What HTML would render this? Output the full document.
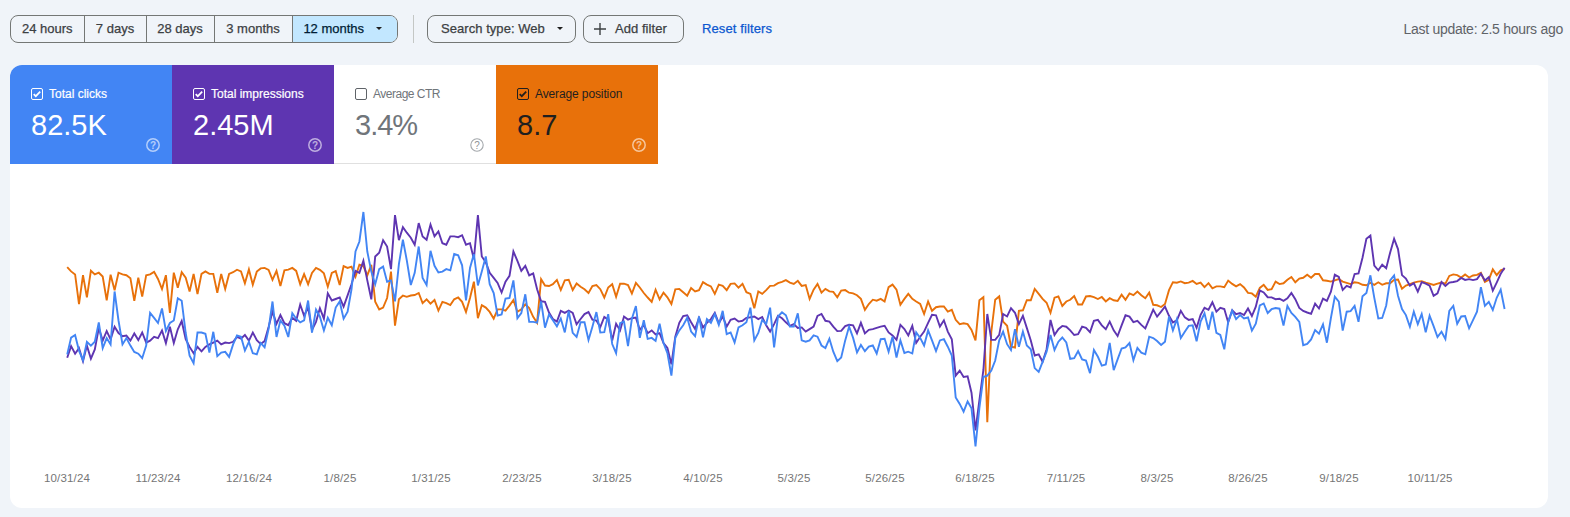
<!DOCTYPE html>
<html lang="en">
<head>
<meta charset="utf-8">
<title>Performance</title>
<style>
*{box-sizing:border-box;margin:0;padding:0}
html,body{width:1570px;height:517px;overflow:hidden}
body{background:#f0f4f9;font-family:"Liberation Sans",Arial,sans-serif;position:relative;color:#1f1f1f}
.seg{position:absolute;left:10px;top:15px;height:28px;width:388px;border:1px solid #747775;border-radius:8px;display:flex;overflow:hidden;background:#f0f4f9}
.seg div{height:100%;display:flex;align-items:center;justify-content:center;padding-bottom:2px;-webkit-text-stroke:0.25px currentColor;font-size:13px;color:#3c4043;border-right:1px solid #747775;white-space:nowrap}
.seg div:last-child{border-right:none;background:#c2e7ff;color:#001d35}
.caret{display:inline-block;width:0;height:0;border-left:3.5px solid transparent;border-right:3.5px solid transparent;border-top:3.5px solid #1f1f1f;position:relative;top:0.3px}
.vsep{position:absolute;left:413px;top:15px;width:1px;height:28px;background:#c4c7c5}
.chip{position:absolute;top:15px;height:28px;border:1px solid #747775;border-radius:8px;font-size:13px;color:#3c4043;display:flex;align-items:center;white-space:nowrap;padding-bottom:2px;-webkit-text-stroke:0.25px currentColor;letter-spacing:0.05px}
.reset{position:absolute;left:702px;top:15px;height:28px;line-height:28px;font-size:13px;color:#0b57d0;white-space:nowrap;-webkit-text-stroke:0.25px currentColor;letter-spacing:0.12px}
.upd{position:absolute;right:7px;top:15px;height:28px;line-height:28px;font-size:14px;color:#5f6368;white-space:nowrap;letter-spacing:-0.27px}
.card{position:absolute;left:10px;top:65px;width:1538px;height:443px;background:#fff;border-radius:12px;overflow:hidden}
.tab{position:absolute;top:0;width:162px;height:99px;color:#fff}
.tab .cb{position:absolute;left:21px;top:23px;width:12px;height:12px}
.tab .lbl{position:absolute;left:39px;top:21px;font-size:12px;line-height:16px;white-space:nowrap;-webkit-text-stroke:0.2px currentColor}
.tab .val{position:absolute;left:21px;top:42px;font-size:29px;line-height:36px;white-space:nowrap;letter-spacing:0}
.tab .help{position:absolute;left:136px;top:73px;width:14px;height:14px}
.t1{left:0;background:#4285f4}
.t2{left:162px;background:#5e35b1}
.t3{left:324px;background:#fff;color:#70757a;border-bottom:1px solid #e0e0e0}
.t3 .lbl{letter-spacing:-0.5px;-webkit-text-stroke:0}
.t3 .val{letter-spacing:-1px}
.t4 .lbl{letter-spacing:-0.12px;-webkit-text-stroke:0}
.t4{left:486px;background:#e8710a;color:#1f1f1f}
.xl{position:absolute;top:406px;font-size:11.5px;letter-spacing:0.15px;line-height:14px;color:#757575;transform:translateX(-50%);white-space:nowrap}
svg.chart{position:absolute;left:0;top:0}
</style>
</head>
<body>
<div class="seg">
  <div style="width:73.5px">24 hours</div>
  <div style="width:62px">7 days</div>
  <div style="width:68px">28 days</div>
  <div style="width:78px">3 months</div>
  <div style="flex:1">12 months<span class="caret" style="margin-left:12px;margin-right:4px"></span></div>
</div>
<div class="vsep"></div>
<div class="chip" style="left:427px;width:149px;padding-left:13px">Search type: Web<span class="caret" style="margin-left:12px"></span></div>
<div class="chip" style="left:583px;width:101px;padding-left:10px"><svg width="12" height="12" viewBox="0 0 12 12" style="margin-right:9px;position:relative;top:0.5px"><path d="M6 0v12M0 6h12" stroke="#3c4043" stroke-width="1.4" fill="none"/></svg>Add filter</div>
<div class="reset">Reset filters</div>
<div class="upd">Last update: 2.5 hours ago</div>

<div class="card">
  <div class="tab t1">
    <svg class="cb" viewBox="0 0 12 12"><rect x="0.5" y="0.5" width="11" height="11" rx="1.5" fill="none" stroke="#fff"/><path d="M2.7 6.1l2.1 2.1 4.4-4.6" stroke="#fff" stroke-width="1.7" fill="none"/></svg>
    <div class="lbl">Total clicks</div><div class="val">82.5K</div>
    <svg class="help" viewBox="0 0 14 14"><circle cx="7" cy="7" r="6.2" fill="none" stroke="#fff" stroke-opacity=".6" stroke-width="1.5"/><text x="7" y="10.6" font-size="10" font-family="Liberation Sans" font-weight="bold" fill="#fff" fill-opacity=".6" text-anchor="middle">?</text></svg>
  </div>
  <div class="tab t2">
    <svg class="cb" viewBox="0 0 12 12"><rect x="0.5" y="0.5" width="11" height="11" rx="1.5" fill="none" stroke="#fff"/><path d="M2.7 6.1l2.1 2.1 4.4-4.6" stroke="#fff" stroke-width="1.7" fill="none"/></svg>
    <div class="lbl">Total impressions</div><div class="val">2.45M</div>
    <svg class="help" viewBox="0 0 14 14"><circle cx="7" cy="7" r="6.2" fill="none" stroke="#fff" stroke-opacity=".6" stroke-width="1.5"/><text x="7" y="10.6" font-size="10" font-family="Liberation Sans" font-weight="bold" fill="#fff" fill-opacity=".6" text-anchor="middle">?</text></svg>
  </div>
  <div class="tab t3">
    <svg class="cb" viewBox="0 0 12 12"><rect x="0.5" y="0.5" width="11" height="11" rx="1.5" fill="none" stroke="#5f6368"/></svg>
    <div class="lbl">Average CTR</div><div class="val">3.4%</div>
    <svg class="help" viewBox="0 0 14 14"><circle cx="7" cy="7" r="6.2" fill="none" stroke="#a4a8ac" stroke-width="1.1"/><text x="7" y="10.5" font-size="10" font-family="Liberation Sans" fill="#909498" text-anchor="middle">?</text></svg>
  </div>
  <div class="tab t4">
    <svg class="cb" viewBox="0 0 12 12"><rect x="0.5" y="0.5" width="11" height="11" rx="1.5" fill="none" stroke="#1f1f1f"/><path d="M2.7 6.1l2.1 2.1 4.4-4.6" stroke="#1f1f1f" stroke-width="1.7" fill="none"/></svg>
    <div class="lbl">Average position</div><div class="val">8.7</div>
    <svg class="help" viewBox="0 0 14 14"><circle cx="7" cy="7" r="6.2" fill="none" stroke="#fff" stroke-opacity=".6" stroke-width="1.5"/><text x="7" y="10.6" font-size="10" font-family="Liberation Sans" font-weight="bold" fill="#fff" fill-opacity=".6" text-anchor="middle">?</text></svg>
  </div>
  <!--XLABELS--><div class="xl" style="left:57px">10/31/24</div><div class="xl" style="left:148px">11/23/24</div><div class="xl" style="left:239px">12/16/24</div><div class="xl" style="left:330px">1/8/25</div><div class="xl" style="left:421px">1/31/25</div><div class="xl" style="left:512px">2/23/25</div><div class="xl" style="left:602px">3/18/25</div><div class="xl" style="left:693px">4/10/25</div><div class="xl" style="left:784px">5/3/25</div><div class="xl" style="left:875px">5/26/25</div><div class="xl" style="left:965px">6/18/25</div><div class="xl" style="left:1056px">7/11/25</div><div class="xl" style="left:1147px">8/3/25</div><div class="xl" style="left:1238px">8/26/25</div><div class="xl" style="left:1329px">9/18/25</div><div class="xl" style="left:1420px">10/11/25</div><!--/XLABELS-->
  <!--CHART--><svg class="chart" width="1538" height="443" viewBox="0 0 1538 443" fill="none" stroke-width="1.9" stroke-linejoin="miter" stroke-miterlimit="4" stroke-linecap="butt">
<polyline stroke="#e8710a" points="57.2,202.2 61.1,206.4 65.1,209.4 69.0,239.1 73.0,210.2 76.9,232.3 80.9,205.7 84.8,209.4 88.8,207.7 92.7,211.5 96.7,235.3 100.6,209.7 104.6,225.3 108.5,207.7 112.5,209.4 116.4,210.2 120.4,213.2 124.3,235.8 128.3,212.7 132.2,231.6 136.2,210.2 140.1,209.4 144.1,206.9 148.0,214.0 152.0,224.0 155.9,210.2 159.9,247.9 163.8,207.7 167.8,222.8 171.7,207.2 175.7,212.7 179.6,226.5 183.6,208.9 187.5,229.1 191.5,208.9 195.4,206.4 199.4,208.9 203.3,208.9 207.3,227.8 211.2,208.9 215.2,224.0 219.1,208.9 223.1,207.2 227.0,204.7 231.0,206.4 234.9,218.2 238.9,204.4 242.8,219.8 246.8,206.6 250.7,203.4 254.6,202.9 258.6,204.9 262.5,214.9 266.5,205.9 270.4,221.0 274.4,205.4 278.3,204.6 282.3,202.9 286.2,205.9 290.2,219.2 294.1,209.1 298.1,219.2 302.0,207.9 306.0,202.9 309.9,204.9 313.9,208.4 317.8,221.7 321.8,207.9 325.7,206.1 329.7,220.0 333.6,201.1 337.6,202.9 341.5,201.6 345.5,211.7 349.4,199.8 353.4,201.1 357.3,210.4 361.3,199.8 365.2,236.8 369.2,244.4 373.1,242.6 377.1,233.0 381.0,206.6 385.0,260.7 388.9,234.3 392.9,230.5 396.8,231.8 400.8,230.5 404.7,230.0 408.7,228.0 412.6,238.1 416.6,234.3 420.5,238.6 424.5,235.0 428.4,245.6 432.4,236.8 436.3,238.1 440.3,240.1 444.2,234.3 448.2,232.5 452.1,236.8 456.0,246.9 460.0,233.0 463.9,216.7 467.9,253.2 471.8,240.1 475.8,242.6 479.7,246.9 483.7,253.7 487.6,244.4 491.6,244.4 495.5,245.6 499.5,240.6 503.4,235.0 507.4,246.9 511.3,244.4 515.3,239.3 519.2,243.1 523.2,251.9 527.1,257.7 531.1,214.2 535.0,220.5 539.0,221.0 542.9,219.2 546.9,214.9 550.8,225.0 554.8,215.4 558.7,214.7 562.7,225.0 566.6,218.5 570.6,221.7 574.5,224.2 578.5,228.0 582.4,221.0 586.4,220.0 590.3,224.2 594.3,232.5 598.2,222.5 602.2,219.2 606.1,231.8 610.1,218.7 614.0,218.7 618.0,220.0 621.9,228.5 625.9,217.9 629.8,222.5 633.8,228.0 637.7,232.5 641.7,236.8 645.6,224.7 649.6,234.3 653.5,227.6 657.4,232.3 661.4,239.0 665.3,224.4 669.3,223.9 673.2,227.2 677.2,230.7 681.1,223.1 685.1,226.4 689.0,225.1 693.0,217.1 696.9,219.6 700.9,221.4 704.8,228.9 708.8,219.6 712.7,220.9 716.7,225.1 720.6,218.9 724.6,218.4 728.5,222.6 732.5,218.9 736.4,227.2 740.4,228.9 744.3,243.2 748.3,226.4 752.2,228.9 756.2,225.1 760.1,220.9 764.1,220.6 768.0,218.1 772.0,216.8 775.9,215.1 779.9,217.6 783.8,218.9 787.8,215.8 791.7,220.9 795.7,220.1 799.6,233.9 803.6,224.6 807.5,218.9 811.5,227.7 815.4,223.9 819.4,226.4 823.3,226.9 827.3,232.2 831.2,225.6 835.2,225.1 839.1,227.7 843.1,228.4 847.0,230.2 850.9,233.9 854.9,244.8 858.8,239.0 862.8,234.7 866.7,235.7 870.7,233.9 874.6,236.5 878.6,222.1 882.5,219.6 886.5,224.6 890.4,239.7 894.4,233.9 898.3,228.9 902.3,233.9 906.2,236.5 910.2,239.0 914.1,249.0 918.1,236.5 922.0,245.8 926.0,242.2 929.9,241.5 933.9,241.5 937.8,246.5 941.8,244.8 945.7,254.8 949.7,259.1 953.6,258.3 957.6,259.1 961.5,264.9 965.5,275.4 969.4,235.2 973.4,232.2 977.3,357.3 981.3,267.0 985.2,234.7 989.2,231.4 993.1,256.6 997.1,260.8 1001.0,281.7 1005.0,282.5 1008.9,245.8 1012.9,245.3 1016.8,235.2 1020.8,235.2 1024.7,223.9 1028.7,228.9 1032.6,233.9 1036.6,237.7 1040.5,247.8 1044.5,232.7 1048.4,231.5 1052.3,241.0 1056.3,236.5 1060.2,234.8 1064.2,231.0 1068.1,239.5 1072.1,239.5 1076.0,231.5 1080.0,231.0 1083.9,232.2 1087.9,234.0 1091.8,232.0 1095.8,236.5 1099.7,233.2 1103.7,235.3 1107.6,236.0 1111.6,229.7 1115.5,234.8 1119.5,228.5 1123.4,230.2 1127.4,226.5 1131.3,230.2 1135.3,233.2 1139.2,227.7 1143.2,239.8 1147.1,240.3 1151.1,242.0 1155.0,239.0 1159.0,225.2 1162.9,217.2 1166.9,217.7 1170.8,216.4 1174.8,218.2 1178.7,217.7 1182.7,215.9 1186.6,218.9 1190.6,217.7 1194.5,222.2 1198.5,218.2 1202.4,223.4 1206.4,221.4 1210.3,221.4 1214.3,222.2 1218.2,215.6 1222.2,218.9 1226.1,221.4 1230.1,219.1 1234.0,222.4 1238.0,227.9 1241.9,228.4 1245.8,231.7 1249.8,222.9 1253.7,219.8 1257.7,224.9 1261.6,224.1 1265.6,216.6 1269.5,219.1 1273.5,218.3 1277.4,214.8 1281.4,212.0 1285.3,217.3 1289.3,213.6 1293.2,212.8 1297.2,209.8 1301.1,212.8 1305.1,209.0 1309.0,209.0 1313.0,215.3 1316.9,215.8 1320.9,216.6 1324.8,215.3 1328.8,214.1 1332.7,216.6 1336.7,217.8 1340.6,219.1 1344.6,217.3 1348.5,217.8 1352.5,219.8 1356.4,220.3 1360.4,217.8 1364.3,219.8 1368.3,217.3 1372.2,219.8 1376.2,218.3 1380.1,218.3 1384.1,214.9 1388.0,214.5 1392.0,223.7 1395.9,220.6 1399.9,219.2 1403.8,217.6 1407.8,216.6 1411.7,216.1 1415.7,217.6 1419.6,218.6 1423.6,220.0 1427.5,218.6 1431.5,217.6 1435.4,218.6 1439.3,210.9 1443.3,209.4 1447.2,210.1 1451.2,212.5 1455.1,209.4 1459.1,212.5 1463.0,210.5 1467.0,209.9 1470.9,207.8 1474.9,217.0 1478.8,214.9 1482.8,204.4 1486.7,210.1 1490.7,205.4 1494.6,204.0"/>
<polyline stroke="#5e35b1" points="57.2,292.7 61.1,281.1 65.1,288.7 69.0,283.1 73.0,296.2 76.9,280.6 80.9,293.7 84.8,284.4 88.8,263.0 92.7,275.6 96.7,266.0 100.6,274.3 104.6,261.7 108.5,268.0 112.5,271.3 116.4,270.5 120.4,275.6 124.3,268.5 128.3,275.1 132.2,267.5 136.2,277.6 140.1,275.6 144.1,271.8 148.0,273.1 152.0,265.5 155.9,278.1 159.9,261.7 163.8,278.1 167.8,264.3 171.7,256.0 175.7,274.3 179.6,281.9 183.6,288.2 187.5,281.9 191.5,286.4 195.4,281.9 199.4,279.4 203.3,277.6 207.3,275.6 211.2,279.4 215.2,277.6 219.1,278.1 223.1,276.8 227.0,271.8 231.0,273.6 234.9,270.0 238.9,275.6 242.8,267.5 246.8,275.1 250.7,279.1 254.6,276.1 258.6,261.9 262.5,246.6 266.5,258.8 270.4,250.1 274.4,258.2 278.3,260.2 282.3,252.7 286.2,255.8 290.2,239.5 294.1,250.7 298.1,242.6 302.0,264.9 306.0,256.8 309.9,243.2 313.9,253.7 317.8,228.4 321.8,235.5 325.7,234.0 329.7,232.4 333.6,241.6 337.6,230.4 341.5,219.2 345.5,205.9 349.4,207.9 353.4,195.8 357.3,215.4 361.3,234.3 365.2,191.5 369.2,187.8 373.1,175.2 377.1,181.5 381.0,204.1 385.0,150.1 388.9,175.2 392.9,162.1 396.8,167.7 400.8,172.7 404.7,179.7 408.7,158.1 412.6,171.4 416.6,174.7 420.5,159.6 424.5,171.4 428.4,166.4 432.4,178.2 436.3,179.7 440.3,171.4 444.2,171.4 448.2,172.2 452.1,170.2 456.0,179.7 460.0,178.2 463.9,194.1 467.9,150.1 471.8,191.5 475.8,197.3 479.7,207.9 483.7,212.9 487.6,217.9 491.6,227.5 495.5,216.7 499.5,210.9 503.4,186.5 507.4,195.8 511.3,205.9 515.3,200.8 519.2,210.4 523.2,208.4 527.1,224.2 531.1,236.3 535.0,236.9 539.0,247.5 542.9,254.0 546.9,256.6 550.8,245.9 554.8,247.9 558.7,245.5 562.7,247.9 566.6,259.3 570.6,254.0 574.5,249.1 578.5,247.1 582.4,254.6 586.4,255.6 590.3,262.1 594.3,252.0 598.2,254.6 602.2,275.5 606.1,258.7 610.1,265.4 614.0,251.6 618.0,254.6 621.9,253.2 625.9,252.6 629.8,264.8 633.8,260.1 637.7,268.2 641.7,265.4 645.6,269.4 649.6,268.2 653.5,278.0 657.4,283.0 661.4,299.3 665.3,271.7 669.3,257.8 673.2,251.0 677.2,250.3 681.1,257.3 685.1,264.1 689.0,252.8 693.0,262.4 696.9,257.8 700.9,254.1 704.8,247.8 708.8,258.3 712.7,251.5 716.7,261.6 720.6,254.8 724.6,253.6 728.5,256.6 732.5,255.8 736.4,252.8 740.4,252.3 744.3,251.5 748.3,254.1 752.2,252.0 756.2,260.3 760.1,266.6 764.1,259.1 768.0,250.8 772.0,253.3 775.9,257.3 779.9,260.8 783.8,259.1 787.8,262.9 791.7,262.4 795.7,266.6 799.6,264.1 803.6,261.6 807.5,251.0 811.5,249.0 815.4,255.8 819.4,256.6 823.3,261.6 827.3,266.1 831.2,265.9 835.2,261.1 839.1,259.8 843.1,260.3 847.0,268.4 850.9,257.8 854.9,268.4 858.8,264.9 862.8,264.1 866.7,262.9 870.7,261.6 874.6,260.8 878.6,267.4 882.5,270.4 886.5,274.9 890.4,259.8 894.4,264.1 898.3,270.4 902.3,260.8 906.2,277.9 910.2,271.7 914.1,266.6 918.1,257.8 922.0,249.8 926.0,250.3 929.9,261.6 933.9,255.3 937.8,266.6 941.8,274.2 945.7,310.6 949.7,305.6 953.6,311.9 957.6,311.4 961.5,327.7 965.5,365.3 969.4,335.0 973.4,305.0 977.3,249.0 981.3,274.9 985.2,274.9 989.2,269.9 993.1,249.0 997.1,251.5 1001.0,243.2 1005.0,247.8 1008.9,259.1 1012.9,250.8 1016.8,262.9 1020.8,275.4 1024.7,290.5 1028.7,289.3 1032.6,296.8 1036.6,284.2 1040.5,254.9 1044.5,270.0 1048.4,264.2 1052.3,260.9 1056.3,261.7 1060.2,265.4 1064.2,270.0 1068.1,269.2 1072.1,261.7 1076.0,262.9 1080.0,267.2 1083.9,255.9 1087.9,254.9 1091.8,260.4 1095.8,264.2 1099.7,256.6 1103.7,265.4 1107.6,271.0 1111.6,260.4 1115.5,250.3 1119.5,251.6 1123.4,257.1 1127.4,255.9 1131.3,259.9 1135.3,263.4 1139.2,254.1 1143.2,244.6 1147.1,251.6 1151.1,246.6 1155.0,241.5 1159.0,250.8 1162.9,257.4 1166.9,255.4 1170.8,245.8 1174.8,252.4 1178.7,254.9 1182.7,254.1 1186.6,262.9 1190.6,249.8 1194.5,242.8 1198.5,244.8 1202.4,237.3 1206.4,246.6 1210.3,242.8 1214.3,244.1 1218.2,257.4 1222.2,245.3 1226.1,249.1 1230.1,248.0 1234.0,250.0 1238.0,243.5 1241.9,251.0 1245.8,241.7 1249.8,225.4 1253.7,227.4 1257.7,232.2 1261.6,232.4 1265.6,234.2 1269.5,233.7 1273.5,235.9 1277.4,233.4 1281.4,227.9 1285.3,234.2 1289.3,243.0 1293.2,246.0 1297.2,247.5 1301.1,248.8 1305.1,238.7 1309.0,243.5 1313.0,233.7 1316.9,235.9 1320.9,226.6 1324.8,209.8 1328.8,212.0 1332.7,224.9 1336.7,220.8 1340.6,222.4 1344.6,209.0 1348.5,208.5 1352.5,192.7 1356.4,173.8 1360.4,170.6 1364.3,200.7 1368.3,205.3 1372.2,199.7 1376.2,203.2 1380.1,187.7 1384.1,173.8 1388.0,184.1 1392.0,210.1 1395.9,213.5 1399.9,220.6 1403.8,218.2 1407.8,226.7 1411.7,217.2 1415.7,218.6 1419.6,220.6 1423.6,230.8 1427.5,228.3 1431.5,217.0 1435.4,221.0 1439.3,217.6 1443.3,217.0 1447.2,216.1 1451.2,212.9 1455.1,214.9 1459.1,214.1 1463.0,215.1 1467.0,214.1 1470.9,208.8 1474.9,215.5 1478.8,212.1 1482.8,225.7 1486.7,217.6 1490.7,208.8 1494.6,202.7"/>
<polyline stroke="#4285f4" points="57.2,289.4 61.1,272.6 65.1,270.0 69.0,285.6 73.0,295.2 76.9,276.8 80.9,280.6 84.8,276.8 88.8,257.5 92.7,283.1 96.7,273.1 100.6,279.4 104.6,226.5 108.5,255.5 112.5,279.4 116.4,273.1 120.4,280.6 124.3,286.9 128.3,288.7 132.2,293.2 136.2,280.6 140.1,247.9 144.1,252.9 148.0,258.0 152.0,243.4 155.9,266.0 159.9,258.0 163.8,255.5 167.8,233.3 171.7,235.8 175.7,268.0 179.6,290.7 183.6,298.2 187.5,267.5 191.5,267.5 195.4,268.8 199.4,287.6 203.3,266.8 207.3,291.2 211.2,287.6 215.2,286.9 219.1,291.9 223.1,279.4 227.0,270.5 231.0,271.8 234.9,285.6 238.9,276.8 242.8,288.2 246.8,289.3 250.7,278.1 254.6,282.2 258.6,263.9 262.5,236.5 266.5,272.0 270.4,255.4 274.4,260.8 278.3,272.0 282.3,248.1 286.2,253.7 290.2,257.4 294.1,255.4 298.1,235.5 302.0,267.6 306.0,244.6 309.9,251.7 313.9,265.5 317.8,252.7 321.8,260.2 325.7,242.6 329.7,236.5 333.6,253.7 337.6,246.6 341.5,224.3 345.5,186.5 349.4,176.5 353.4,147.0 357.3,186.5 361.3,206.6 365.2,219.2 369.2,204.1 373.1,201.6 377.1,216.7 381.0,215.4 385.0,236.3 388.9,199.1 392.9,174.7 396.8,195.3 400.8,220.0 404.7,207.9 408.7,181.5 412.6,212.9 416.6,220.0 420.5,185.8 424.5,200.8 428.4,207.4 432.4,206.6 436.3,204.1 440.3,205.4 444.2,189.0 448.2,190.3 452.1,200.3 456.0,235.5 460.0,202.9 463.9,189.0 467.9,220.5 471.8,206.6 475.8,191.5 479.7,219.2 483.7,228.0 487.6,250.6 491.6,249.4 495.5,233.5 499.5,233.0 503.4,215.4 507.4,253.2 511.3,248.1 515.3,229.3 519.2,256.9 523.2,256.9 527.1,257.7 531.1,236.3 535.0,262.7 539.0,249.5 542.9,255.2 546.9,261.3 550.8,253.6 554.8,267.4 558.7,245.9 562.7,267.8 566.6,271.9 570.6,257.2 574.5,257.2 578.5,274.9 582.4,261.7 586.4,247.1 590.3,267.4 594.3,267.2 598.2,249.1 602.2,279.0 606.1,288.1 610.1,258.1 614.0,256.6 618.0,281.0 621.9,253.6 625.9,241.0 629.8,272.9 633.8,255.2 637.7,273.9 641.7,272.9 645.6,275.9 649.6,258.7 653.5,278.0 657.4,288.1 661.4,310.6 665.3,272.9 669.3,265.4 673.2,260.3 677.2,252.8 681.1,266.6 685.1,271.2 689.0,251.5 693.0,272.2 696.9,254.1 700.9,257.8 704.8,249.0 708.8,259.8 712.7,245.8 716.7,269.1 720.6,267.4 724.6,277.4 728.5,262.4 732.5,260.3 736.4,257.3 740.4,242.7 744.3,275.4 748.3,267.9 752.2,254.8 756.2,259.1 760.1,242.7 764.1,282.5 768.0,251.5 772.0,247.3 775.9,250.3 779.9,261.6 783.8,261.6 787.8,248.3 791.7,275.4 795.7,276.7 799.6,275.4 803.6,270.4 807.5,271.7 811.5,280.5 815.4,283.0 819.4,273.7 823.3,286.7 827.3,296.1 831.2,292.5 835.2,275.4 839.1,261.6 843.1,272.9 847.0,287.5 850.9,280.0 854.9,286.2 858.8,281.7 862.8,280.5 866.7,288.5 870.7,274.2 874.6,273.7 878.6,286.7 882.5,271.7 886.5,292.5 890.4,275.4 894.4,288.0 898.3,286.7 902.3,288.5 906.2,267.4 910.2,272.9 914.1,280.5 918.1,265.4 922.0,275.4 926.0,286.0 929.9,275.4 933.9,274.2 937.8,281.7 941.8,290.5 945.7,332.4 949.7,338.9 953.6,346.6 957.6,336.5 961.5,343.4 965.5,381.5 969.4,343.0 973.4,312.0 977.3,310.6 981.3,305.6 985.2,295.5 989.2,275.4 993.1,266.6 997.1,279.2 1001.0,285.0 1005.0,264.1 1008.9,281.7 1012.9,266.6 1016.8,280.5 1020.8,284.2 1024.7,303.1 1028.7,306.9 1032.6,296.8 1036.6,286.7 1040.5,270.0 1044.5,285.0 1048.4,276.7 1052.3,272.5 1056.3,277.5 1060.2,293.8 1064.2,293.1 1068.1,286.1 1072.1,294.4 1076.0,295.6 1080.0,308.2 1083.9,285.0 1087.9,291.8 1091.8,300.6 1095.8,299.4 1099.7,278.0 1103.7,305.2 1107.6,294.4 1111.6,283.5 1115.5,282.5 1119.5,278.0 1123.4,295.1 1127.4,283.0 1131.3,287.6 1135.3,289.3 1139.2,271.7 1143.2,273.0 1147.1,276.0 1151.1,280.0 1155.0,276.7 1159.0,251.6 1162.9,265.4 1166.9,254.1 1170.8,273.0 1174.8,266.7 1178.7,260.9 1182.7,260.4 1186.6,276.2 1190.6,256.6 1194.5,248.3 1198.5,264.7 1202.4,246.6 1206.4,267.9 1210.3,270.0 1214.3,284.3 1218.2,256.6 1222.2,245.8 1226.1,254.1 1230.1,250.0 1234.0,253.5 1238.0,252.5 1241.9,265.6 1245.8,258.6 1249.8,240.5 1253.7,238.5 1257.7,248.0 1261.6,244.2 1265.6,243.0 1269.5,243.7 1273.5,260.6 1277.4,241.0 1281.4,248.0 1285.3,251.8 1289.3,256.8 1293.2,280.2 1297.2,278.9 1301.1,274.4 1305.1,265.1 1309.0,268.6 1313.0,259.3 1316.9,277.7 1320.9,253.0 1324.8,231.7 1328.8,236.7 1332.7,265.6 1336.7,246.7 1340.6,246.2 1344.6,241.0 1348.5,256.8 1352.5,231.2 1356.4,227.9 1360.4,210.3 1364.3,232.9 1368.3,253.5 1372.2,253.0 1376.2,240.5 1380.1,215.3 1384.1,210.5 1388.0,230.8 1392.0,244.0 1395.9,250.1 1399.9,261.8 1403.8,246.6 1407.8,259.2 1411.7,249.0 1415.7,267.3 1419.6,250.7 1423.6,261.2 1427.5,272.0 1431.5,266.7 1435.4,274.0 1439.3,246.0 1443.3,240.9 1447.2,258.8 1451.2,251.5 1455.1,251.1 1459.1,263.3 1463.0,255.1 1467.0,246.6 1470.9,222.2 1474.9,240.9 1478.8,236.9 1482.8,245.0 1486.7,232.8 1490.7,224.7 1494.6,244.0"/>
</svg><!--/CHART-->
</div>
</body>
</html>
